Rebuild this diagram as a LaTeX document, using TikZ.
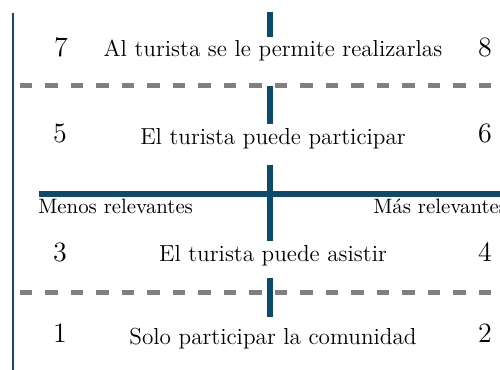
\documentclass[tikz,border=0pt]{standalone}
\usetikzlibrary{positioning}
\definecolor{ejeazul}{RGB}{14,74,107}
\definecolor{grisguion}{RGB}{128,128,132}

\begin{document}
\begin{tikzpicture}[x=0.5pt,y=0.5pt,
    eje/.style={color=ejeazul,line width=2.8pt},
    guion/.style={color=grisguion,line width=2.5pt,dash pattern=on 6.25pt off 6.5pt},
    numero/.style={anchor=base,inner sep=0pt,font=\fontsize{14}{16}\selectfont},
    texto/.style={anchor=base,inner sep=0pt,font=\fontsize{11.6}{14}\selectfont},
    etiqueta/.style={anchor=base west,inner sep=0pt,font=\fontsize{10.4}{12}\selectfont}]
    \useasboundingbox (0,0) rectangle (500,370);

    % Left axis
    \draw[color=ejeazul,line width=1pt] (13,357) -- (13,0);

    % Dashed separators
    \draw[guion] (20,284) -- (500,284);
    \draw[guion] (20,77) -- (500,77);

    % Horizontal axis
    \draw[eje] (39,176) -- (500,176);

    % Pieces of the vertical axis
    \foreach \ya/\yb in {358/333, 284/246, 205/129, 92/53} {
        \draw[eje] (270,\ya) -- (270,\yb);
    }

    % Numbers on both sides
    \foreach \n/\x/\y in {7/61/313, 8/485/313, 5/60/227, 6/485/227, 3/60/108, 4/485/108, 1/60/27, 2/485/27} {
        \node[numero] (num\n) at (\x,\y) {\n};
    }

    % Row texts
    \node[texto] (fila4) at (273,313) {Al turista se le permite realizarlas};
    \node[texto] (fila3) at (273,225) {El turista puede participar};
    \node[texto] (fila2) at (273,108) {El turista puede asistir};
    \node[texto] (fila1) at (273,25) {Solo participar la comunidad};

    % Axis labels
    \node[etiqueta] (menos) at (38,156) {Menos relevantes};
    \node[etiqueta] (mas) at (373,156) {Más relevantes};
\end{tikzpicture}
\end{document}
